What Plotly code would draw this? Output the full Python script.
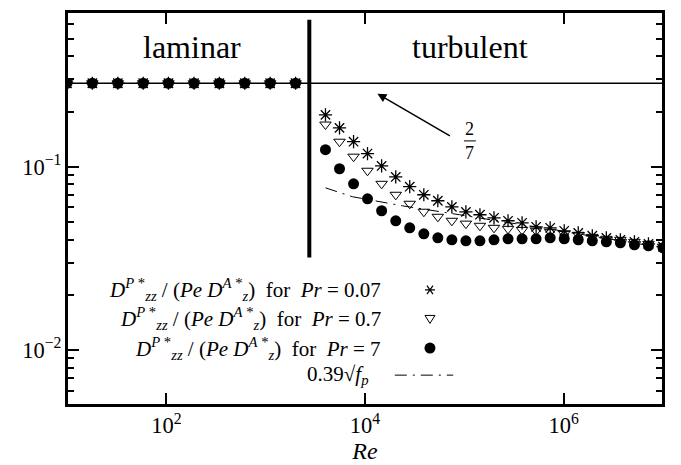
import plotly.graph_objects as go

# ---------------- data ----------------
re_laminar = [10.0, 18.0, 32.5, 58.5, 105.0, 190.0, 342.0, 616.0, 1110.0, 2000.0]
laminar_value = [0.2857] * 10

re_turb = [4000, 5540, 7670, 10600, 14700, 20400, 28200, 39100, 54100, 74900,
           103700, 143600, 198900, 275400, 381400, 528100, 731300, 1012700,
           1402300, 1941900, 2689100, 3723700, 5156500, 7140600, 10000000]

pr007 = [0.192, 0.163, 0.137, 0.118, 0.101, 0.088, 0.0778, 0.0703, 0.0652, 0.0604,
         0.0567, 0.0547, 0.0526, 0.0507, 0.0494, 0.0470, 0.0464, 0.0447, 0.0435,
         0.0420, 0.0409, 0.0399, 0.0389, 0.0379, 0.0366]
pr07 = [0.170, 0.137, 0.1135, 0.0951, 0.0807, 0.0703, 0.0628, 0.0568, 0.0533, 0.0507,
        0.0489, 0.0476, 0.0464, 0.0458, 0.0452, 0.0447, 0.0441, 0.0430, 0.0425,
        0.0414, 0.0404, 0.0399, 0.0389, 0.0379, 0.0366]
pr7 = [0.124, 0.0975, 0.0807, 0.0668, 0.0575, 0.0507, 0.0464, 0.0430, 0.0409, 0.0399,
       0.0394, 0.0394, 0.0399, 0.0404, 0.0404, 0.0404, 0.0409, 0.0404, 0.0399,
       0.0394, 0.0389, 0.0384, 0.0375, 0.0370, 0.0361]

re_fp = [4000, 7460, 23800, 44600, 89300, 242000, 720000, 1820000, 3900000, 10000000]
fp_line = [0.0767, 0.0686, 0.0612, 0.0582, 0.0547, 0.0501, 0.0458, 0.0420, 0.0394, 0.0361]

ref_value = [0.2857, 0.2857]
ref_re = [10, 10000000]
transition_re = [2750, 2750]
transition_y = [0.0319, 0.635]

DZZ = "<i>D</i><sup><i>P</i> *</sup><sub><i>zz</i></sub> / (<i>Pe</i> <i>D</i><sup><i>A</i> *</sup><sub><i>z</i></sub>)"
legend_labels = [
    DZZ + "  for  <i>Pr</i> = 0.07",
    DZZ + "  for  <i>Pr</i> = 0.7",
    DZZ + "  for  <i>Pr</i> = 7",
    "0.39√<i>f</i><sub><i>p</i></sub>",
]
legend_y = [0.293, 0.219, 0.145, 0.076]

FONT = "Liberation Serif"
DASHDOT = "12px,6px,2px,6px"

fig = go.Figure()

fig.add_trace(go.Scatter(x=ref_re, y=ref_value, mode="lines",
                         line=dict(color="black", width=1.5), showlegend=False))
fig.add_trace(go.Scatter(x=transition_re, y=transition_y, mode="lines",
                         line=dict(color="black", width=4), showlegend=False))
fig.add_trace(go.Scatter(x=re_fp, y=fp_line, mode="lines",
                         line=dict(color="black", width=1, dash=DASHDOT),
                         showlegend=False))

star = dict(symbol="asterisk-open", size=11, color="black", line=dict(color="black", width=1.3))
tri = dict(symbol="triangle-down-open", size=10, color="black", line=dict(color="black", width=1))
circ = dict(symbol="circle", size=11, color="black")

fig.add_trace(go.Scatter(x=re_laminar + re_turb, y=laminar_value + pr007, mode="markers",
                         marker=star, showlegend=False))
fig.add_trace(go.Scatter(x=re_laminar + re_turb, y=laminar_value + pr07, mode="markers",
                         marker=tri, showlegend=False))
fig.add_trace(go.Scatter(x=re_laminar + re_turb, y=laminar_value + pr7, mode="markers",
                         marker=circ, showlegend=False))

LX = 0.609
shapes = [
    dict(type="rect", xref="paper", yref="paper", x0=0, x1=1, y0=0, y1=1,
         line=dict(color="black", width=2), layer="above"),
    dict(type="path", xref="paper", yref="paper", xsizemode="pixel", ysizemode="pixel",
         xanchor=LX, yanchor=legend_y[0],
         path="M -5 0 L 5 0 M -3 -4.3 L 3 4.3 M -3 4.3 L 3 -4.3",
         line=dict(color="black", width=1.2)),
    dict(type="path", xref="paper", yref="paper", xsizemode="pixel", ysizemode="pixel",
         xanchor=LX, yanchor=legend_y[1],
         path="M -5 3.5 L 5 3.5 L 0 -4.5 Z",
         line=dict(color="black", width=1)),
    dict(type="circle", xref="paper", yref="paper", xsizemode="pixel", ysizemode="pixel",
         xanchor=LX, yanchor=legend_y[2], x0=-5.5, x1=5.5, y0=-5.5, y1=5.5,
         fillcolor="black", line=dict(color="black", width=0)),
    dict(type="line", xref="paper", yref="paper", x0=0.550, x1=0.648,
         y0=legend_y[3], y1=legend_y[3], line=dict(color="black", width=1, dash=DASHDOT)),
    dict(type="line", xref="paper", yref="paper", x0=0.666, x1=0.686,
         y0=0.672, y1=0.672, line=dict(color="black", width=1)),
]

annotations = []
for lbl, ly in zip(legend_labels, legend_y):
    annotations.append(dict(x=0.530 if ly > 0.1 else 0.508, y=ly, xref="paper", yref="paper",
                            text=lbl, showarrow=False, xanchor="right", yanchor="middle",
                            font=dict(family=FONT, size=21, color="black")))
annotations += [
    dict(x=0.210, y=0.911, xref="paper", yref="paper", text="laminar", showarrow=False,
         xanchor="center", yanchor="middle", font=dict(family=FONT, size=32, color="black")),
    dict(x=0.676, y=0.911, xref="paper", yref="paper", text="turbulent", showarrow=False,
         xanchor="center", yanchor="middle", font=dict(family=FONT, size=32, color="black")),
    dict(x=4.125, y=-0.601, xref="x", yref="y", ax=4.87, ay=-0.836, axref="x", ayref="y",
         text="", showarrow=True, arrowhead=2, arrowsize=1.2, arrowwidth=1.5, arrowcolor="black"),
    dict(x=0.676, y=0.703, xref="paper", yref="paper", text="2", showarrow=False,
         xanchor="center", yanchor="middle", font=dict(family=FONT, size=18, color="black")),
    dict(x=0.676, y=0.641, xref="paper", yref="paper", text="7", showarrow=False,
         xanchor="center", yanchor="middle", font=dict(family=FONT, size=18, color="black")),
]

# the page body adds an 8px offset, so the figure is sized to fill the window exactly
fig.update_layout(
    width=673, height=457,
    margin=dict(l=59, r=18, t=4, b=60),
    paper_bgcolor="white", plot_bgcolor="white",
    font=dict(family=FONT, size=18, color="black"),
    annotations=annotations,
    shapes=shapes,
    xaxis=dict(type="log", range=[1, 7], dtick=2, automargin=False,
               exponentformat="power", showexponent="all",
               ticks="inside", ticklen=12, tickwidth=2, tickcolor="black",
               showline=True, linecolor="black", linewidth=2, mirror="allticks",
               showgrid=False, zeroline=False,
               title=dict(text="<i>Re</i>", font=dict(family=FONT, size=24), standoff=4),
               tickfont=dict(family=FONT, size=18)),
    yaxis=dict(type="log", range=[-2.301, -0.155], dtick=1, automargin=False,
               exponentformat="power", showexponent="all",
               ticks="inside", ticklen=12, tickwidth=2, tickcolor="black",
               showline=True, linecolor="black", linewidth=2, mirror="allticks",
               showgrid=False, zeroline=False,
               minor=dict(ticks="inside", ticklen=7, tickwidth=1.5, tickcolor="black", showgrid=False),
               tickfont=dict(family=FONT, size=18)),
)

fig.write_html("out.html")
